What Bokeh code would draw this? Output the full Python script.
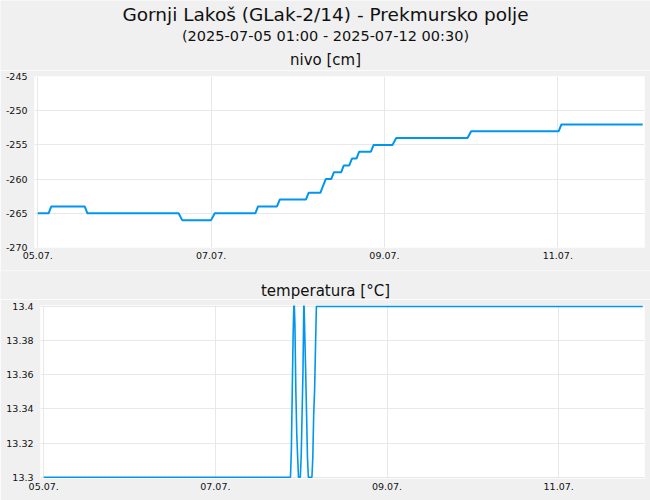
import pandas as pd
from bokeh.plotting import figure
from bokeh.layouts import column
from bokeh.models import Range1d, FixedTicker, DatetimeTickFormatter, ColumnDataSource
from bokeh.core.properties import value
from bokeh.embed import file_html
from bokeh.resources import INLINE

# ---------------- data ----------------
title_text = "Gornji Lakoš (GLak-2/14) - Prekmursko polje"
subtitle_text = "(2025-07-05 01:00 - 2025-07-12 00:30)"
level_title = "nivo [cm]"
temp_title = "temperatura [°C]"

level_times = [
    "2025-07-05 01:00", "2025-07-05 04:00", "2025-07-05 04:45", "2025-07-05 14:00",
    "2025-07-05 14:45", "2025-07-06 16:00", "2025-07-06 17:00", "2025-07-07 01:00",
    "2025-07-07 02:00", "2025-07-07 13:15", "2025-07-07 14:00", "2025-07-07 19:15",
    "2025-07-07 20:00", "2025-07-08 03:15", "2025-07-08 04:00", "2025-07-08 07:15",
    "2025-07-08 08:00", "2025-07-08 08:45", "2025-07-08 10:15", "2025-07-08 11:00",
    "2025-07-08 13:00", "2025-07-08 13:45", "2025-07-08 15:15", "2025-07-08 16:00",
    "2025-07-08 17:15", "2025-07-08 18:00", "2025-07-08 21:15", "2025-07-08 22:00",
    "2025-07-09 03:15", "2025-07-09 04:15", "2025-07-10 00:00", "2025-07-10 01:00",
    "2025-07-11 01:15", "2025-07-11 02:00", "2025-07-12 00:30",
]
level_values = [
    -265, -265, -264, -264,
    -265, -265, -266, -266,
    -265, -265, -264, -264,
    -263, -263, -262, -262,
    -261, -260, -260, -259,
    -259, -258, -258, -257,
    -257, -256, -256, -255,
    -255, -254, -254, -253,
    -253, -252, -252,
]

temp_times = [
    "2025-07-05 01:00", "2025-07-07 22:00", "2025-07-07 22:15", "2025-07-07 22:30",
    "2025-07-07 22:45", "2025-07-07 23:00", "2025-07-07 23:15", "2025-07-07 23:30",
    "2025-07-07 23:45", "2025-07-08 00:00", "2025-07-08 00:15", "2025-07-08 00:45",
    "2025-07-08 01:00", "2025-07-08 01:15", "2025-07-08 01:30", "2025-07-08 01:45",
    "2025-07-08 02:00", "2025-07-08 02:15", "2025-07-08 02:30", "2025-07-08 02:45",
    "2025-07-08 03:00", "2025-07-08 04:00", "2025-07-08 04:15", "2025-07-08 04:30",
    "2025-07-08 04:45", "2025-07-08 05:00", "2025-07-08 05:15", "2025-07-12 00:30",
]
temp_values = [
    13.300, 13.300, 13.316, 13.350,
    13.384, 13.405, 13.389, 13.351,
    13.326, 13.312, 13.300, 13.300,
    13.312, 13.337, 13.362, 13.405,
    13.384, 13.362, 13.337, 13.312,
    13.300, 13.300, 13.312, 13.337,
    13.351, 13.376, 13.400, 13.400,
]

x_start = "2025-07-05 00:06"
x_end = "2025-07-12 01:00"
x_tick_times = ["2025-07-05 01:00", "2025-07-07 01:00", "2025-07-09 01:00", "2025-07-11 01:00"]

level_ticks = [-270, -265, -260, -255, -250, -245]
level_tick_labels = ["-270", "-265", "-260", "-255", "-250", "-245"]
temp_ticks = [13.3, 13.32, 13.34, 13.36, 13.38, 13.4]
temp_tick_labels = ["13.3", "13.32", "13.34", "13.36", "13.38", "13.4"]

# ---------------- style ----------------
BG = "#f0f0f0"
LINE = "#0096f0"
GRID = "#e8e8e8"
FONT = "DejaVu Sans"
W = 650


def header(height, items):
    p = figure(width=W, height=height, x_range=Range1d(0, W), y_range=Range1d(height, 0),
               x_axis_location=None, y_axis_location=None, toolbar_location=None,
               output_backend="svg", min_border=0, outline_line_color=None,
               background_fill_color=BG, border_fill_color=BG, frame_align=False)
    p.grid.visible = False
    for txt, y, size in items:
        p.text(x=[W / 2], y=[y], text=[txt], text_align="center",
               text_baseline="middle", text_font=value(FONT),
               text_font_size=size, text_color="#111111")
    return p


def panel(height, frame_h, left, times, values, ticks, tick_labels, y0, y1, lw):
    fw = W - left - 6
    p = figure(width=W, height=height, frame_width=fw, frame_height=frame_h,
               x_axis_type="datetime", toolbar_location=None, output_backend="svg",
               x_range=Range1d(pd.Timestamp(x_start), pd.Timestamp(x_end)),
               y_range=Range1d(y0, y1),
               min_border_left=left, min_border_right=6, min_border_top=6,
               min_border_bottom=height - 6 - frame_h,
               background_fill_color="white", border_fill_color=BG,
               outline_line_color=None, frame_align=False)
    src = ColumnDataSource(dict(t=pd.to_datetime(times), v=values))
    p.line(x="t", y="v", source=src, line_color=LINE, line_width=lw)

    p.xaxis.ticker = FixedTicker(ticks=[pd.Timestamp(t).value // 10**6 for t in x_tick_times])
    fmt = "%d.%m."
    p.xaxis.formatter = DatetimeTickFormatter(
        milliseconds=fmt, seconds=fmt, minsec=fmt, minutes=fmt, hourmin=fmt,
        hours=fmt, days=fmt, months=fmt, years=fmt)
    p.yaxis.ticker = FixedTicker(ticks=ticks)
    p.yaxis.major_label_overrides = {t: l for t, l in zip(ticks, tick_labels)}

    for ax in (p.xaxis[0], p.yaxis[0]):
        ax.axis_line_color = None
        ax.major_tick_line_color = None
        ax.minor_tick_line_color = None
        ax.major_tick_out = 0
        ax.major_tick_in = 0
        ax.major_label_text_font = FONT
        ax.major_label_text_font_size = "9.5px"
        ax.major_label_text_color = "#111111"
    p.xaxis.major_label_standoff = 4
    p.yaxis.major_label_standoff = 7
    p.grid.grid_line_color = GRID
    p.grid.grid_line_width = 1
    return p


head1 = header(70, [(title_text, 14.3, "18.5px"), (subtitle_text, 35.7, "14.5px"),
                    (level_title, 59.8, "15px")])
top = panel(200, 171, 34, level_times, level_values, level_ticks, level_tick_labels,
            -270, -245, 2)
head2 = header(29, [(temp_title, 20.8, "15px")])
bottom = panel(201, 173, 40, temp_times, temp_values, temp_ticks, temp_tick_labels,
               13.2993, 13.4005, 1.6)

layout = column(head1, top, head2, bottom, spacing=0)
open("out.html", "w").write(file_html(layout, INLINE))
